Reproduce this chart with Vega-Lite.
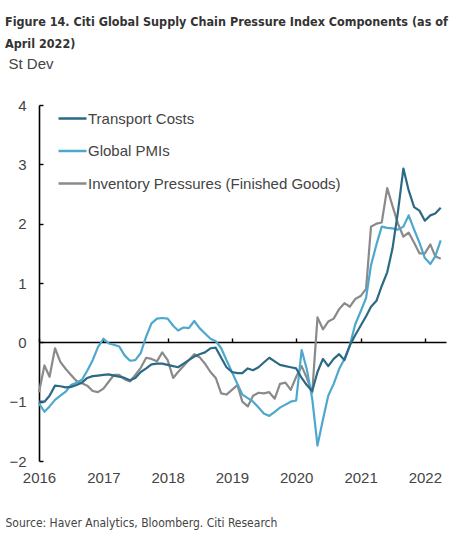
{
  "$schema": "https://vega.github.io/schema/vega-lite/v6.json",
  "width": 407,
  "height": 356,
  "autosize": "none",
  "padding": {"left": 39, "top": 105, "right": 20, "bottom": 81},
  "background": "white",
  "config": {
    "view": {"stroke": null},
    "font": "Liberation Sans"
  },
  "title": {
    "text": ["Figure 14. Citi Global Supply Chain Pressure Index Components (as of", "April 2022)"],
    "anchor": "start",
    "frame": "group",
    "font": "DejaVu Sans Condensed",
    "fontSize": 12.5,
    "fontWeight": "bold",
    "color": "#333333",
    "lineHeight": 22,
    "dx": -34,
    "offset": 6
  },
  "data": {
    "values": [
      {"date": "2016-01-01", "Transport Costs": -1.0, "Global PMIs": -1.03, "Inventory Pressures (Finished Goods)": -0.84},
      {"date": "2016-02-01", "Transport Costs": -1.0, "Global PMIs": -1.17, "Inventory Pressures (Finished Goods)": -0.39},
      {"date": "2016-03-01", "Transport Costs": -0.9, "Global PMIs": -1.08, "Inventory Pressures (Finished Goods)": -0.58},
      {"date": "2016-04-01", "Transport Costs": -0.73, "Global PMIs": -0.97, "Inventory Pressures (Finished Goods)": -0.1},
      {"date": "2016-05-01", "Transport Costs": -0.74, "Global PMIs": -0.9, "Inventory Pressures (Finished Goods)": -0.33},
      {"date": "2016-06-01", "Transport Costs": -0.76, "Global PMIs": -0.83, "Inventory Pressures (Finished Goods)": -0.45},
      {"date": "2016-07-01", "Transport Costs": -0.75, "Global PMIs": -0.72, "Inventory Pressures (Finished Goods)": -0.55},
      {"date": "2016-08-01", "Transport Costs": -0.72, "Global PMIs": -0.68, "Inventory Pressures (Finished Goods)": -0.65},
      {"date": "2016-09-01", "Transport Costs": -0.68, "Global PMIs": -0.63, "Inventory Pressures (Finished Goods)": -0.69},
      {"date": "2016-10-01", "Transport Costs": -0.6, "Global PMIs": -0.48, "Inventory Pressures (Finished Goods)": -0.73},
      {"date": "2016-11-01", "Transport Costs": -0.57, "Global PMIs": -0.3, "Inventory Pressures (Finished Goods)": -0.82},
      {"date": "2016-12-01", "Transport Costs": -0.56, "Global PMIs": -0.08, "Inventory Pressures (Finished Goods)": -0.84},
      {"date": "2017-01-01", "Transport Costs": -0.55, "Global PMIs": 0.06, "Inventory Pressures (Finished Goods)": -0.78},
      {"date": "2017-02-01", "Transport Costs": -0.54, "Global PMIs": -0.02, "Inventory Pressures (Finished Goods)": -0.66},
      {"date": "2017-03-01", "Transport Costs": -0.56, "Global PMIs": -0.04, "Inventory Pressures (Finished Goods)": -0.55},
      {"date": "2017-04-01", "Transport Costs": -0.58, "Global PMIs": -0.07, "Inventory Pressures (Finished Goods)": -0.55},
      {"date": "2017-05-01", "Transport Costs": -0.6, "Global PMIs": -0.22, "Inventory Pressures (Finished Goods)": -0.62},
      {"date": "2017-06-01", "Transport Costs": -0.64, "Global PMIs": -0.31, "Inventory Pressures (Finished Goods)": -0.66},
      {"date": "2017-07-01", "Transport Costs": -0.6, "Global PMIs": -0.3, "Inventory Pressures (Finished Goods)": -0.55},
      {"date": "2017-08-01", "Transport Costs": -0.5, "Global PMIs": -0.18, "Inventory Pressures (Finished Goods)": -0.43},
      {"date": "2017-09-01", "Transport Costs": -0.44, "Global PMIs": 0.1, "Inventory Pressures (Finished Goods)": -0.26},
      {"date": "2017-10-01", "Transport Costs": -0.37, "Global PMIs": 0.32, "Inventory Pressures (Finished Goods)": -0.28},
      {"date": "2017-11-01", "Transport Costs": -0.36, "Global PMIs": 0.4, "Inventory Pressures (Finished Goods)": -0.32},
      {"date": "2017-12-01", "Transport Costs": -0.36, "Global PMIs": 0.41, "Inventory Pressures (Finished Goods)": -0.17},
      {"date": "2018-01-01", "Transport Costs": -0.38, "Global PMIs": 0.4, "Inventory Pressures (Finished Goods)": -0.3},
      {"date": "2018-02-01", "Transport Costs": -0.4, "Global PMIs": 0.28, "Inventory Pressures (Finished Goods)": -0.6},
      {"date": "2018-03-01", "Transport Costs": -0.42, "Global PMIs": 0.2, "Inventory Pressures (Finished Goods)": -0.5},
      {"date": "2018-04-01", "Transport Costs": -0.36, "Global PMIs": 0.25, "Inventory Pressures (Finished Goods)": -0.4},
      {"date": "2018-05-01", "Transport Costs": -0.3, "Global PMIs": 0.24, "Inventory Pressures (Finished Goods)": -0.3},
      {"date": "2018-06-01", "Transport Costs": -0.24, "Global PMIs": 0.36, "Inventory Pressures (Finished Goods)": -0.2},
      {"date": "2018-07-01", "Transport Costs": -0.2, "Global PMIs": 0.24, "Inventory Pressures (Finished Goods)": -0.25},
      {"date": "2018-08-01", "Transport Costs": -0.17, "Global PMIs": 0.15, "Inventory Pressures (Finished Goods)": -0.36},
      {"date": "2018-09-01", "Transport Costs": -0.1, "Global PMIs": 0.06, "Inventory Pressures (Finished Goods)": -0.5},
      {"date": "2018-10-01", "Transport Costs": -0.09, "Global PMIs": 0.02, "Inventory Pressures (Finished Goods)": -0.6},
      {"date": "2018-11-01", "Transport Costs": -0.26, "Global PMIs": -0.1, "Inventory Pressures (Finished Goods)": -0.86},
      {"date": "2018-12-01", "Transport Costs": -0.42, "Global PMIs": -0.3, "Inventory Pressures (Finished Goods)": -0.88},
      {"date": "2019-01-01", "Transport Costs": -0.5, "Global PMIs": -0.5, "Inventory Pressures (Finished Goods)": -0.8},
      {"date": "2019-02-01", "Transport Costs": -0.52, "Global PMIs": -0.7, "Inventory Pressures (Finished Goods)": -0.72},
      {"date": "2019-03-01", "Transport Costs": -0.52, "Global PMIs": -0.88, "Inventory Pressures (Finished Goods)": -1.0},
      {"date": "2019-04-01", "Transport Costs": -0.44, "Global PMIs": -0.94, "Inventory Pressures (Finished Goods)": -1.08},
      {"date": "2019-05-01", "Transport Costs": -0.47, "Global PMIs": -1.0, "Inventory Pressures (Finished Goods)": -0.9},
      {"date": "2019-06-01", "Transport Costs": -0.42, "Global PMIs": -1.1, "Inventory Pressures (Finished Goods)": -0.85},
      {"date": "2019-07-01", "Transport Costs": -0.34, "Global PMIs": -1.2, "Inventory Pressures (Finished Goods)": -0.86},
      {"date": "2019-08-01", "Transport Costs": -0.26, "Global PMIs": -1.24, "Inventory Pressures (Finished Goods)": -0.84},
      {"date": "2019-09-01", "Transport Costs": -0.32, "Global PMIs": -1.17, "Inventory Pressures (Finished Goods)": -0.95},
      {"date": "2019-10-01", "Transport Costs": -0.38, "Global PMIs": -1.1, "Inventory Pressures (Finished Goods)": -0.7},
      {"date": "2019-11-01", "Transport Costs": -0.4, "Global PMIs": -1.05, "Inventory Pressures (Finished Goods)": -0.68},
      {"date": "2019-12-01", "Transport Costs": -0.42, "Global PMIs": -1.0, "Inventory Pressures (Finished Goods)": -0.8},
      {"date": "2020-01-01", "Transport Costs": -0.44, "Global PMIs": -0.98, "Inventory Pressures (Finished Goods)": -0.58},
      {"date": "2020-02-01", "Transport Costs": -0.6, "Global PMIs": -0.13, "Inventory Pressures (Finished Goods)": -0.4},
      {"date": "2020-03-01", "Transport Costs": -0.72, "Global PMIs": -0.45, "Inventory Pressures (Finished Goods)": -0.6},
      {"date": "2020-04-01", "Transport Costs": -0.82, "Global PMIs": -0.95, "Inventory Pressures (Finished Goods)": -0.85},
      {"date": "2020-05-01", "Transport Costs": -0.5, "Global PMIs": -1.74, "Inventory Pressures (Finished Goods)": 0.42},
      {"date": "2020-06-01", "Transport Costs": -0.28, "Global PMIs": -1.3, "Inventory Pressures (Finished Goods)": 0.22},
      {"date": "2020-07-01", "Transport Costs": -0.4, "Global PMIs": -0.9, "Inventory Pressures (Finished Goods)": 0.35},
      {"date": "2020-08-01", "Transport Costs": -0.28, "Global PMIs": -0.7, "Inventory Pressures (Finished Goods)": 0.4},
      {"date": "2020-09-01", "Transport Costs": -0.2, "Global PMIs": -0.45, "Inventory Pressures (Finished Goods)": 0.56},
      {"date": "2020-10-01", "Transport Costs": -0.3, "Global PMIs": -0.28, "Inventory Pressures (Finished Goods)": 0.66},
      {"date": "2020-11-01", "Transport Costs": -0.05, "Global PMIs": -0.05, "Inventory Pressures (Finished Goods)": 0.6},
      {"date": "2020-12-01", "Transport Costs": 0.12, "Global PMIs": 0.3, "Inventory Pressures (Finished Goods)": 0.73},
      {"date": "2021-01-01", "Transport Costs": 0.28, "Global PMIs": 0.52, "Inventory Pressures (Finished Goods)": 0.78},
      {"date": "2021-02-01", "Transport Costs": 0.44, "Global PMIs": 0.75, "Inventory Pressures (Finished Goods)": 0.9},
      {"date": "2021-03-01", "Transport Costs": 0.6, "Global PMIs": 1.3, "Inventory Pressures (Finished Goods)": 1.95},
      {"date": "2021-04-01", "Transport Costs": 0.7, "Global PMIs": 1.65, "Inventory Pressures (Finished Goods)": 2.0},
      {"date": "2021-05-01", "Transport Costs": 0.95, "Global PMIs": 1.95, "Inventory Pressures (Finished Goods)": 2.02},
      {"date": "2021-06-01", "Transport Costs": 1.18, "Global PMIs": 1.93, "Inventory Pressures (Finished Goods)": 2.6},
      {"date": "2021-07-01", "Transport Costs": 1.58, "Global PMIs": 1.92, "Inventory Pressures (Finished Goods)": 2.3},
      {"date": "2021-08-01", "Transport Costs": 2.2, "Global PMIs": 1.9, "Inventory Pressures (Finished Goods)": 2.0},
      {"date": "2021-09-01", "Transport Costs": 2.93, "Global PMIs": 1.95, "Inventory Pressures (Finished Goods)": 1.78},
      {"date": "2021-10-01", "Transport Costs": 2.56, "Global PMIs": 2.14, "Inventory Pressures (Finished Goods)": 1.85},
      {"date": "2021-11-01", "Transport Costs": 2.28, "Global PMIs": 1.9, "Inventory Pressures (Finished Goods)": 1.68},
      {"date": "2021-12-01", "Transport Costs": 2.22, "Global PMIs": 1.68, "Inventory Pressures (Finished Goods)": 1.5},
      {"date": "2022-01-01", "Transport Costs": 2.05, "Global PMIs": 1.42, "Inventory Pressures (Finished Goods)": 1.5},
      {"date": "2022-02-01", "Transport Costs": 2.14, "Global PMIs": 1.32, "Inventory Pressures (Finished Goods)": 1.65},
      {"date": "2022-03-01", "Transport Costs": 2.17, "Global PMIs": 1.45, "Inventory Pressures (Finished Goods)": 1.45},
      {"date": "2022-04-01", "Transport Costs": 2.27, "Global PMIs": 1.72, "Inventory Pressures (Finished Goods)": 1.41}
    ]
  },
  "transform": [
    {"fold": ["Inventory Pressures (Finished Goods)", "Global PMIs", "Transport Costs"], "as": ["series", "value"]}
  ],
  "mark": {"type": "line", "strokeWidth": 2.2, "strokeJoin": "round"},
  "encoding": {
    "x": {
      "field": "date",
      "type": "temporal",
      "scale": {
        "type": "utc",
        "domain": [
          {"year": 2016, "month": 1, "date": 1, "utc": true},
          {"year": 2022, "month": 5, "date": 1, "utc": true}
        ]
      },
      "axis": {
        "orient": "bottom",
        "offset": -119,
        "format": "%Y",
        "tickCount": "year",
        "domainColor": "#000000",
        "domainWidth": 1.6,
        "tickColor": "#000000",
        "tickWidth": 1.4,
        "tickSize": -4,
        "grid": false,
        "labelPadding": 132,
        "labelFont": "Liberation Sans",
        "labelFontSize": 15,
        "labelColor": "#444444",
        "labelFlush": false,
        "labelAlign": "center",
        "title": "Source: Haver Analytics, Bloomberg. Citi Research",
        "titleFont": "DejaVu Sans Condensed",
        "titleFontSize": 12,
        "titleFontWeight": "normal",
        "titleColor": "#444444",
        "titleAnchor": "start",
        "titleAlign": "left",
        "titleBaseline": "middle",
        "titleX": -34,
        "titleY": 180
      }
    },
    "y": {
      "field": "value",
      "type": "quantitative",
      "scale": {"domain": [-2, 4], "nice": false},
      "axis": {
        "values": [-2, -1, 0, 1, 2, 3, 4],
        "grid": false,
        "domainColor": "#000000",
        "domainWidth": 1.6,
        "tickColor": "#000000",
        "tickWidth": 1.4,
        "tickSize": -4,
        "labelPadding": 17,
        "labelFont": "Liberation Sans",
        "labelFontSize": 15,
        "labelColor": "#444444",
        "title": "St Dev",
        "titleAngle": 0,
        "titleAlign": "left",
        "titleBaseline": "middle",
        "titleFont": "Liberation Sans",
        "titleFontSize": 15,
        "titleFontWeight": "normal",
        "titleColor": "#444444",
        "titleX": -31,
        "titleY": -42
      }
    },
    "color": {
      "field": "series",
      "type": "nominal",
      "scale": {
        "domain": ["Transport Costs", "Global PMIs", "Inventory Pressures (Finished Goods)"],
        "range": ["#2b6984", "#4ea7cc", "#8a8a8a"]
      },
      "legend": {
        "orient": "none",
        "legendX": 18,
        "legendY": -2,
        "title": null,
        "symbolType": "stroke",
        "symbolSize": 784,
        "symbolStrokeWidth": 2.5,
        "labelFont": "Liberation Sans",
        "labelFontSize": 15,
        "labelColor": "#444444",
        "labelOffset": 0,
        "labelLimit": 400,
        "rowPadding": 8.5
      }
    }
  }
}
